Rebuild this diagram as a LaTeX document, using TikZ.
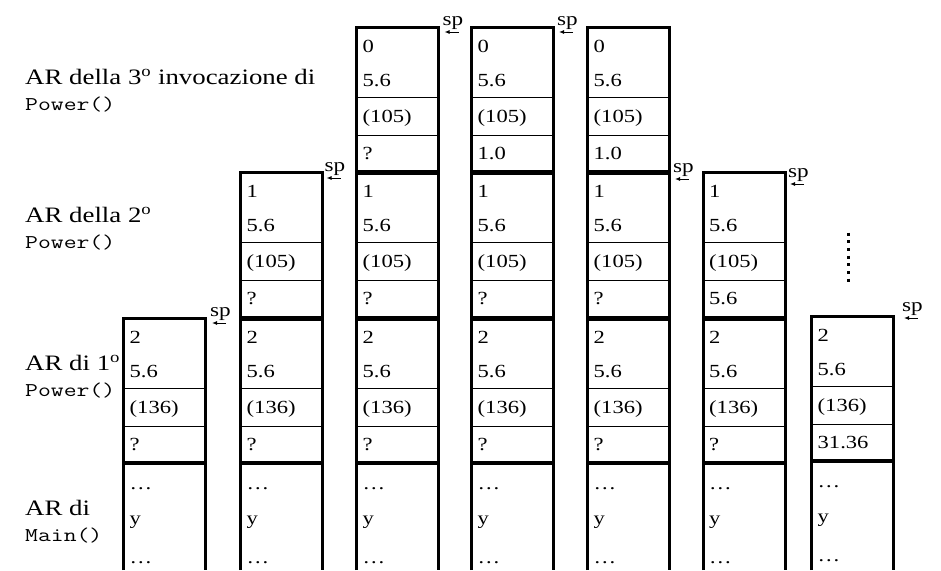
\documentclass[tikz,border=0pt]{standalone}
\usepackage{fontspec}
\setmainfont{Liberation Serif}[FakeStretch=1.22]
\setmonofont{Latin Modern Mono}[FakeStretch=1.28]
\usetikzlibrary{arrows.meta}

\tikzset{
  wall/.style={line width=3pt, line join=miter},
  frameedge/.style={line width=4.5pt},
  cellline/.style={line width=1.5pt},
  celltext/.style={anchor=base west, inner sep=0pt, font=\fontsize{18.5}{22}\selectfont},
  sidetext/.style={anchor=base west, inner sep=0pt, font=\fontsize{22}{26}\selectfont},
  sidecode/.style={anchor=base west, inner sep=0pt, font=\fontsize{19.5}{22}\selectfont\ttfamily},
  sptext/.style={anchor=base west, inner sep=0pt, font=\fontsize{19}{20}\selectfont},
  sparrow/.style={-{Latex[length=5pt,width=4pt]}, line width=1pt},
  dotline/.style={line width=3pt, dash pattern=on 3pt off 4.7pt}
}

% one activation record: left x, top y, four cell texts, name prefix
\newcommand\arframe[7]{%
  \draw[cellline] (#1,#2+70) -- ++(82,0);
  \draw[cellline] (#1,#2+108) -- ++(82,0);
  \node[celltext] (#7a) at (#1+6,#2+25) {#3};
  \node[celltext] (#7b) at (#1+6,#2+59) {#4};
  \node[celltext] (#7c) at (#1+6,#2+95) {#5};
  \node[celltext] (#7d) at (#1+6,#2+132) {#6};
}
% record of Main(): left x, top y, name prefix
\newcommand\mainrec[3]{%
  \node[celltext] (#3a) at (#1+6,#2+26) {…};
  \node[celltext] (#3b) at (#1+6,#2+61) {y};
  \node[celltext] (#3c) at (#1+6,#2+100) {…};
}
% stack walls: left x, top y
\newcommand\stackwalls[2]{%
  \draw[wall] (#1,570) -- (#1,#2) -- (#1+82,#2) -- (#1+82,570);
}
% stack pointer label with its arrow: name, tip x, tip y
\newcommand\stackptr[3]{%
  \node[sptext] (#1) at (#2-2,#3-7) {sp};
  \coordinate (#1tip) at (#2,#3);
  \coordinate (#1tail) at (#2+14,#3);
  \draw[sparrow] (#1tail) -- (#1tip);
}

\begin{document}
\begin{tikzpicture}[x=1pt,y=-1pt]
\useasboundingbox[fill=white] (0,0) rectangle (941,570);

% labels on the left
\node[sidetext] (lab3a) at (25,84) {AR della 3\textsuperscript{o} invocazione di};
\node[sidecode] (lab3b) at (25,110) {Power()};
\node[sidetext] (lab2a) at (25,222) {AR della 2\textsuperscript{o}};
\node[sidecode] (lab2b) at (25,248) {Power()};
\node[sidetext] (lab1a) at (25,370) {AR di 1\textsuperscript{o}};
\node[sidecode] (lab1b) at (25,396) {Power()};
\node[sidetext] (lab0a) at (25,515) {AR di};
\node[sidecode] (lab0b) at (25,541) {Main()};

% column 1
\stackwalls{123.5}{318.5}
\draw[frameedge] (123.5,463) -- ++(82,0);
\arframe{123.5}{318.5}{2}{5.6}{(136)}{?}{k1p}
\mainrec{123.5}{463}{k1m}

% column 2
\stackwalls{240.5}{172.5}
\draw[frameedge] (240.5,318.5) -- ++(82,0);
\draw[frameedge] (240.5,463) -- ++(82,0);
\arframe{240.5}{172.5}{1}{5.6}{(105)}{?}{k2q}
\arframe{240.5}{318.5}{2}{5.6}{(136)}{?}{k2p}
\mainrec{240.5}{463}{k2m}

% column 3
\stackwalls{356.5}{27.5}
\draw[frameedge] (356.5,172.5) -- ++(82,0);
\draw[frameedge] (356.5,318.5) -- ++(82,0);
\draw[frameedge] (356.5,463) -- ++(82,0);
\arframe{356.5}{27.5}{0}{5.6}{(105)}{?}{k3r}
\arframe{356.5}{172.5}{1}{5.6}{(105)}{?}{k3q}
\arframe{356.5}{318.5}{2}{5.6}{(136)}{?}{k3p}
\mainrec{356.5}{463}{k3m}

% column 4
\stackwalls{471.5}{27.5}
\draw[frameedge] (471.5,172.5) -- ++(82,0);
\draw[frameedge] (471.5,318.5) -- ++(82,0);
\draw[frameedge] (471.5,463) -- ++(82,0);
\arframe{471.5}{27.5}{0}{5.6}{(105)}{1.0}{k4r}
\arframe{471.5}{172.5}{1}{5.6}{(105)}{?}{k4q}
\arframe{471.5}{318.5}{2}{5.6}{(136)}{?}{k4p}
\mainrec{471.5}{463}{k4m}

% column 5
\stackwalls{587.5}{27.5}
\draw[frameedge] (587.5,172.5) -- ++(82,0);
\draw[frameedge] (587.5,318.5) -- ++(82,0);
\draw[frameedge] (587.5,463) -- ++(82,0);
\arframe{587.5}{27.5}{0}{5.6}{(105)}{1.0}{k5r}
\arframe{587.5}{172.5}{1}{5.6}{(105)}{?}{k5q}
\arframe{587.5}{318.5}{2}{5.6}{(136)}{?}{k5p}
\mainrec{587.5}{463}{k5m}

% column 6
\stackwalls{703}{172.5}
\draw[frameedge] (703,318.5) -- ++(82,0);
\draw[frameedge] (703,463) -- ++(82,0);
\arframe{703}{172.5}{1}{5.6}{(105)}{5.6}{k6q}
\arframe{703}{318.5}{2}{5.6}{(136)}{?}{k6p}
\mainrec{703}{463}{k6m}

% column 7
\stackwalls{811.5}{316.5}
\draw[frameedge] (811.5,461) -- ++(82,0);
\arframe{811.5}{316.5}{2}{5.6}{(136)}{31.36}{k7p}
\mainrec{811.5}{461}{k7m}

% omitted frames
\draw[dotline] (848,232.5) -- (848,284);

% stack pointers
\stackptr{sp1}{212}{323}
\stackptr{sp2}{326.5}{178}
\stackptr{sp3}{444.5}{32}
\stackptr{sp4}{559}{32}
\stackptr{sp5}{675}{179}
\stackptr{sp6}{790}{184}
\stackptr{sp7}{904}{318}
\end{tikzpicture}
\end{document}
